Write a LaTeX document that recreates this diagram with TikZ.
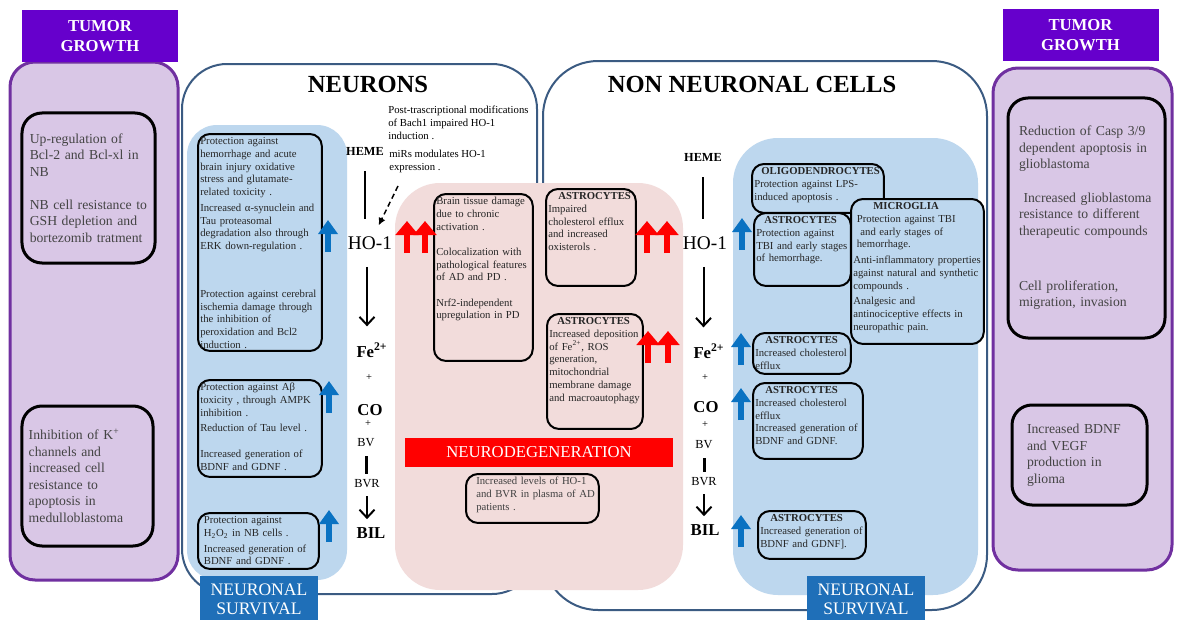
\documentclass[tikz,border=0pt]{standalone}
\usepackage{fontspec}
\setmainfont{Liberation Serif}
\usetikzlibrary{positioning, arrows.meta}
\definecolor{tumorHead}{HTML}{6600CC}
\definecolor{tumorFill}{HTML}{D9C7E6}
\definecolor{tumorLine}{HTML}{7030A0}
\definecolor{tumorText}{HTML}{444444}
\definecolor{survBlue}{HTML}{1F6FB8}
\definecolor{arrowBlue}{HTML}{0A72C2}
\definecolor{lightBlue}{HTML}{BDD7EE}
\definecolor{pinkFill}{HTML}{F2DCDB}
\definecolor{panelLine}{HTML}{3B5B82}
\newcommand{\cellfont}{\fontsize{6.1}{7.25}\selectfont}
\newcommand{\tumorfont}{\fontsize{7.8}{9.4}\selectfont}

\begin{document}
\begin{tikzpicture}[x=0.2mm, y=-0.2mm,
  panel/.style={draw=panelLine, line width=0.4mm, fill=white},
  tumorpanel/.style={draw=tumorLine, line width=0.6mm, fill=tumorFill, rounded corners=5mm},
  tumorhead/.style={fill=tumorHead, text=white, align=center, inner sep=0pt,
    font=\bfseries\fontsize{9.5}{11}\selectfont, minimum width=31.2mm, minimum height=10.4mm},
  tumorcell/.style={draw=black, line width=0.6mm, rounded corners=4mm, align=left,
    inner sep=0pt, font=\tumorfont, text=tumorText},
  survival/.style={fill=survBlue, text=white, align=center, inner sep=0pt,
    font=\fontsize{10}{11}\selectfont, minimum width=23.6mm, minimum height=9.4mm},
  cell/.style={draw=black, line width=0.4mm, rounded corners=2.4mm, anchor=north west,
    align=left, inner xsep=1.3pt, inner ysep=1.5pt, text height=1.6mm,
    font=\cellfont, text=black!85},
  boxw/.style={text width=#1*0.2mm-0.95mm},
  boxh/.style={text depth=#1*0.2mm-2.66mm},
  chem/.style={inner sep=0pt},
  link/.style={line width=0.4mm},
  linkarr/.style={line width=0.4mm, -{Straight Barb[length=1.6mm, width=3mm]}},
  upblue/.style={draw=arrowBlue, line width=1.15mm, -{Triangle[width=3.8mm, length=2.8mm]}},
  upred/.style={draw=red, line width=1.3mm, -{Triangle[width=4.5mm, length=2.8mm]}}
]
  \useasboundingbox (0,0) rectangle (1183,620);

  % Tumor growth
  \draw[tumorpanel] (10,62) rectangle (178,580);
  \node[tumorhead] (tumorHeadL) at (100,36) {TUMOR\\GROWTH};
  \node[tumorcell, minimum width=26.6mm, minimum height=30mm, text width=23.5mm] (tumorL1) at (88.5,188)
    {Up-regulation of\\Bcl-2 and Bcl-xl  in\\NB\\[9.4pt] NB cell resistance to\\GSH depletion and\\bortezomib tratment};
  \node[tumorcell, minimum width=26.2mm, minimum height=28mm, text width=23.5mm] (tumorL2) at (87.5,476)
    {Inhibition of K\textsuperscript{+}\\channels and\\increased cell\\resistance to\\apoptosis in\\medulloblastoma};

  \draw[tumorpanel] (993,68) rectangle (1172,570);
  \node[tumorhead] (tumorHeadR) at (1080.5,35) {TUMOR\\GROWTH};
  \node[tumorcell, minimum width=31.4mm, minimum height=48mm, text width=27mm] (tumorR1) at (1086.5,218)
    {Reduction of Casp 3/9\\dependent apoptosis in\\glioblastoma\\[9.4pt] \ Increased glioblastoma\\resistance to different\\therapeutic compounds\\[22pt] Cell proliferation,\\migration, invasion};
  \node[tumorcell, minimum width=27mm, minimum height=20mm, text width=21mm] (tumorR2) at (1079.5,455)
    {Increased BDNF\\and VEGF\\production in\\glioma};

  % Pannelli
  \draw[panel, rounded corners=9mm] (182,64) rectangle (537,594);
  \draw[panel, rounded corners=11mm] (543,61) rectangle (987,610);
  \node[font=\bfseries\fontsize{14}{16}\selectfont] (neurTitle) at (368,84) {NEURONS};
  \node[font=\bfseries\fontsize{14}{16}\selectfont] (nonTitle) at (752,84) {NON NEURONAL CELLS};

  \fill[lightBlue, rounded corners=6mm] (187,125) rectangle (347,580);
  \fill[lightBlue, rounded corners=9mm] (733,138) rectangle (978,595);
  \fill[pinkFill, rounded corners=9mm] (395,183) rectangle (683,590);

  \node[survival] (survL) at (259,599) {NEURONAL\\SURVIVAL};
  \node[survival] (survR) at (866,599) {NEURONAL\\SURVIVAL};

  % Via dell'eme (neuroni)
  \node[chem, font=\bfseries\fontsize{7}{8}\selectfont] (hemeL) at (365,151) {HEME};
  \node[chem, font=\fontsize{11}{12}\selectfont] (hoL) at (370,243) {HO-1};
  \node[chem, font=\bfseries\fontsize{9.5}{11}\selectfont] (feL) at (372,350) {Fe\textsuperscript{2+}};
  \node[chem, font=\fontsize{6}{7}\selectfont] (plusL1) at (369,378) {+};
  \node[chem, font=\bfseries\fontsize{9.5}{11}\selectfont] (coL) at (370,410) {CO};
  \node[chem, font=\fontsize{6}{7}\selectfont] (plusL2) at (368,424) {+};
  \node[chem, font=\fontsize{7}{8}\selectfont] (bvL) at (366,443) {BV};
  \node[chem, font=\fontsize{7}{8}\selectfont] (bvrL) at (367,484) {BVR};
  \node[chem, font=\bfseries\fontsize{9.5}{11}\selectfont] (bilL) at (371,533) {BIL};

  \draw[link, shorten <=3.2mm, shorten >=3.4mm] (hemeL.south) -- (hemeL.south |- hoL.north);
  \draw[linkarr, shorten <=3.4mm, shorten >=3.2mm] ([xshift=-0.6mm]hoL.south) -- ([xshift=-0.6mm]hoL.south |- feL.north);
  \draw[line width=0.6mm, shorten <=1.8mm, shorten >=1.2mm] (bvL.south) -- (bvL.south |- bvrL.north);
  \draw[linkarr, shorten <=1.6mm, shorten >=1.6mm] (bvrL.south) -- (bvrL.south |- bilL.north);

  \node[anchor=north west, align=left, inner sep=0pt, font=\cellfont] (bachTxt) at (388,106)
    {Post-trascriptional  modifications\\of  Bach1  impaired HO-1\\induction .};
  \node[anchor=north west, align=left, inner sep=0pt, font=\cellfont] (mirsTxt) at (389,150)
    {miRs  modulates HO-1\\expression .};
  \coordinate (dotStart) at (398,186);
  \draw[densely dashed, line width=0.3mm, -{Latex[length=1.5mm, width=1.5mm]}, shorten >=2.4mm] (dotStart) -- (hoL);

  % Via dell'eme (non neuronali)
  \node[chem, font=\bfseries\fontsize{7}{8}\selectfont] (hemeR) at (703,157) {HEME};
  \node[chem, font=\fontsize{11}{12}\selectfont] (hoR) at (705,243) {HO-1};
  \node[chem, font=\bfseries\fontsize{9.5}{11}\selectfont] (feR) at (709,351) {Fe\textsuperscript{2+}};
  \node[chem, font=\fontsize{6}{7}\selectfont] (plusR1) at (705,378) {+};
  \node[chem, font=\bfseries\fontsize{9.5}{11}\selectfont] (coR) at (706,407) {CO};
  \node[chem, font=\fontsize{6}{7}\selectfont] (plusR2) at (705,425) {+};
  \node[chem, font=\fontsize{7}{8}\selectfont] (bvR) at (704,445) {BV};
  \node[chem, font=\fontsize{7}{8}\selectfont] (bvrR) at (704,482) {BVR};
  \node[chem, font=\bfseries\fontsize{9.5}{11}\selectfont] (bilR) at (705,530) {BIL};

  \draw[link, shorten <=3.2mm, shorten >=3.4mm] (hemeR.south) -- (hemeR.south |- hoR.north);
  \draw[linkarr, shorten <=3.4mm, shorten >=3.2mm] ([xshift=-0.3mm]hoR.south) -- ([xshift=-0.3mm]hoR.south |- feR.north);
  \draw[line width=0.6mm, shorten <=1.8mm, shorten >=1.2mm] (bvR.south) -- (bvR.south |- bvrR.north);
  \draw[linkarr, shorten <=1.6mm, shorten >=1.6mm] (bvrR.south) -- (bvrR.south |- bilR.north);

  % Sopravvivenza neuronale
  \node[cell, boxw=124, boxh=217] (protA) at (197,133)
    {Protection against\\hemorrhage and acute\\brain injury  oxidative\\stress and glutamate-\\related toxicity .\\[0.6mm]
     Increased α-synuclein and\\Tau  proteasomal\\degradation also through\\ERK  down-regulation .\\[7mm]
     Protection against cerebral\\ischemia damage through\\the inhibition of\\peroxidation  and Bcl2\\induction .};
  \node[cell, boxw=124, boxh=97] (protB) at (197,379)
    {Protection against Aβ\\toxicity , through AMPK\\inhibition .\\[0.6mm] Reduction of Tau  level .\\[2.6mm]
     Increased generation of\\BDNF  and GDNF  .};
  \node[cell, boxw=121, boxh=56] (protC) at (197,512)
    {\ Protection against\\\ H\textsubscript{2}O\textsubscript{2} in NB  cells .\\[0.6mm] \ Increased generation of\\\ BDNF  and GDNF  .};

  % Neurodegenerazione
  \node[cell, boxw=99, boxh=167] (degD) at (433,193)
    {Brain  tissue damage\\due to chronic\\activation .\\[2.5mm] Colocalization  with\\pathological features\\of AD  and PD .\\[2.5mm]
     Nrf2-independent\\upregulation in PD};
  \node[cell, boxw=90, boxh=97] (degE) at (545,188)
    {\hspace*{2mm}\textbf{ASTROCYTES}\\Impaired\\cholesterol efflux\\and increased\\oxisterols .};
  \node[cell, boxw=96, boxh=115] (degF) at (546,313)
    {\hspace*{1.6mm}\textbf{ASTROCYTES}\\Increased deposition\\of Fe\textsuperscript{2+}, ROS\\generation,\\mitochondrial\\membrane  damage\\and macroautophagy};
  \node[fill=red, text=white, inner sep=0pt, minimum width=53.6mm, minimum height=5.8mm,
    font=\fontsize{9.5}{11}\selectfont] (neurodeg) at (539,452) {NEURODEGENERATION};
  \node[cell, boxw=133, boxh=49, text=black!75] (degG) at (465,473)
    {\hspace*{1.6mm}Increased levels of HO-1\\\hspace*{1.6mm}and BVR  in plasma of AD\\\hspace*{1.6mm}patients .};

  % Cellule non neuronali
  \node[cell, fill=lightBlue, boxw=132, boxh=49] (oligo) at (751,163)
    {\hspace*{1.4mm}\textbf{OLIGODENDROCYTES}\\Protection against LPS-\\induced apoptosis .};
  \node[cell, fill=lightBlue, boxw=97, boxh=73] (astroA) at (753,212)
    {\hspace*{1.6mm}\textbf{ASTROCYTES}\\Protection against\\TBI  and early  stages\\of hemorrhage.};
  \node[cell, fill=lightBlue, boxw=133, boxh=145] (micro) at (850,198)
    {\hspace*{4mm}\textbf{MICROGLIA}\\\ Protection against TBI\\\ \ and early  stages of\\\ hemorrhage.\\[0.6mm]
     Anti-inflammatory  properties\\against natural and synthetic\\compounds .\\[0.6mm] Analgesic and\\antinociceptive effects in\\neuropathic pain.};
  \node[cell, fill=lightBlue, boxw=98, boxh=41] (astroB) at (752,332)
    {\hspace*{2mm}\textbf{ASTROCYTES}\\Increased cholesterol\\efflux};
  \node[cell, fill=lightBlue, boxw=110, boxh=76] (astroC) at (752,382)
    {\hspace*{2mm}\textbf{ASTROCYTES}\\Increased cholesterol\\efflux\\Increased generation of\\BDNF  and GDNF.};
  \node[cell, fill=lightBlue, boxw=108, boxh=48] (astroD) at (757,510)
    {\hspace*{2mm}\textbf{ASTROCYTES}\\Increased generation of\\BDNF  and GDNF].};

  % Frecce
  \foreach \x/\y in {328/252, 329/413, 329/542, 742/250, 741/365, 741/420, 741/547}
    \draw[upblue] (\x,\y) -- (\x,\y-32);
  \foreach \x/\y in {407/253, 425/253, 647/253, 667/253, 648/363, 668/363}
    \draw[upred] (\x,\y) -- (\x,\y-32);
\end{tikzpicture}
\end{document}
